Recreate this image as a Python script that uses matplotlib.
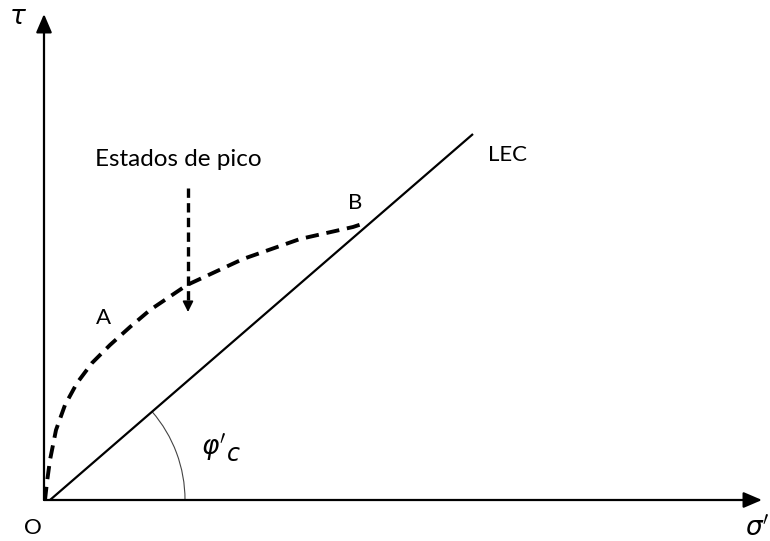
import numpy as np
import matplotlib.pyplot as plt
from matplotlib.patches import Arc

# peak-state curve from O to B (sigma', tau)
curve_sigma = [1, 3, 6, 12, 21, 33, 48, 66, 86, 106, 143, 199, 256, 309, 321]
curve_tau = [0, 18, 40, 70, 95, 117, 137, 155, 173, 190, 215, 241, 261, 273, 277]

# critical state line (LEC)
lec_sigma = [6, 429]
lec_tau = [0, 366]
angle_radius = 135

# arrow pointing at the peak states
peak_arrow_x = 144
peak_arrow_top = 312
peak_arrow_tip = 188

sigma_max = 718
tau_max = 486

fig = plt.figure(figsize=(7.7, 5.41), dpi=100)
ax = fig.add_axes([0, 0, 1, 1])
ax.set_xlim(-44, 726)
ax.set_ylim(-41, 500)
ax.axis('off')

font = 'Lato'

# axes with arrow heads
ax.annotate('', xy=(0, tau_max), xytext=(0, 0),
            arrowprops=dict(arrowstyle='-|>,head_width=0.3,head_length=0.7',
                            color='black', lw=1.6,
                            mutation_scale=16, shrinkA=0, shrinkB=0))
ax.annotate('', xy=(sigma_max, 0), xytext=(0, 0),
            arrowprops=dict(arrowstyle='-|>,head_width=0.3,head_length=0.7',
                            color='black', lw=1.6,
                            mutation_scale=16, shrinkA=0, shrinkB=0))

# LEC
ax.plot(lec_sigma, lec_tau, color='black', lw=1.6, solid_capstyle='butt')
phi = np.degrees(np.arctan2(lec_tau[1] - lec_tau[0], lec_sigma[1] - lec_sigma[0]))
ax.add_patch(Arc((lec_sigma[0], 0), 2 * angle_radius, 2 * angle_radius,
                 theta1=0, theta2=phi, color='#444444', lw=0.8))

# peak curve
ax.plot(curve_sigma, curve_tau, color='black', lw=2.8,
        linestyle=(0, (3.4, 2.0)), dash_capstyle='butt', solid_joinstyle='round')

# dashed arrow
ax.plot([peak_arrow_x, peak_arrow_x], [peak_arrow_top, peak_arrow_tip + 8],
        color='black', lw=2.4, linestyle=(0, (2.8, 1.6)), dash_capstyle='butt')
ax.annotate('', xy=(peak_arrow_x, peak_arrow_tip), xytext=(peak_arrow_x, peak_arrow_tip + 10),
            arrowprops=dict(arrowstyle='-|>', color='black', lw=1.2,
                            mutation_scale=16, shrinkA=0, shrinkB=0))

# labels
ax.text(134, 340, 'Estados de pico', fontsize=17.5, family=font, ha='center', va='center')
ax.text(59, 182, 'A', fontsize=16, family=font, ha='center', va='center')
ax.text(311, 297, 'B', fontsize=16, family=font, ha='center', va='center')
ax.text(463, 345, 'LEC', fontsize=16, family=font, ha='center', va='center')
ax.text(-11, -28, 'O', fontsize=16, family=font, ha='center', va='center')
ax.text(-26, 483, r'$\tau$', fontsize=19, ha='center', va='center')
ax.text(713, -29, r"$\sigma'$", fontsize=19, ha='center', va='center')
ax.text(170, 53, r"$\varphi'$", fontsize=19, ha='center', va='center')
ax.text(182, 46, r'$c$', fontsize=17, ha='left', va='center')

fig.savefig('out.png', dpi=100)
